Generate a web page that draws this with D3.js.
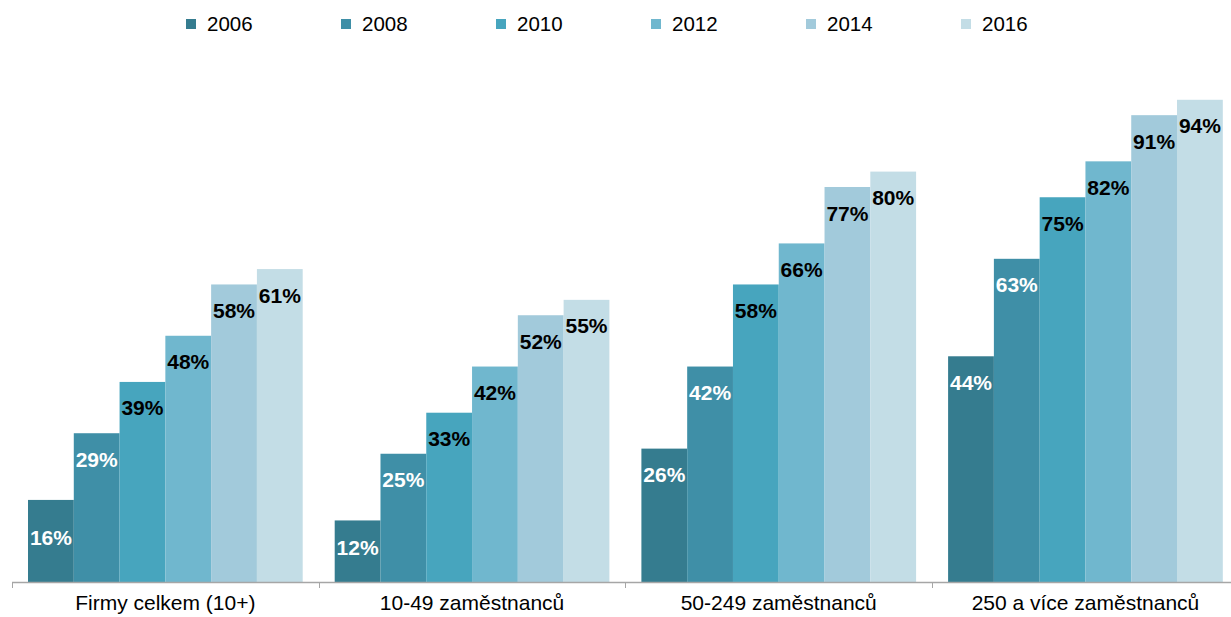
<!DOCTYPE html>
<html>
<head>
<meta charset="utf-8">
<script src="https://cdn.jsdelivr.net/npm/d3@7"></script>
<style>
  body { margin: 0; background: #fff; }
  svg { display: block; font-family: "Liberation Sans", Arial, sans-serif; }
</style>
</head>
<body>
<div id="chart"></div>
<script>
const categories = ["Firmy celkem (10+)", "10-49 zaměstnanců", "50-249 zaměstnanců", "250 a více zaměstnanců"];
const years = ["2006", "2008", "2010", "2012", "2014", "2016"];
const values2006 = [16, 12, 26, 44];
const values2008 = [29, 25, 42, 63];
const values2010 = [39, 33, 58, 75];
const values2012 = [48, 42, 66, 82];
const values2014 = [58, 52, 77, 91];
const values2016 = [61, 55, 80, 94];
const seriesValues = [values2006, values2008, values2010, values2012, values2014, values2016];

const colors = ["#357c8f", "#3f8fa7", "#47a5be", "#70b7ce", "#a2cadb", "#c3dde6"];
const labelColors = ["#fff", "#fff", "#000", "#000", "#000", "#000"];

const width = 1231, height = 617;
const baseY = 582, topY = 69;

const svg = d3.select("#chart").append("svg")
    .attr("width", width)
    .attr("height", height);

const x0 = d3.scaleBand()
    .domain(categories)
    .range([12, 12 + 306.7 * 4])
    .padding(0);

const x1 = d3.scaleBand()
    .domain(years)
    .range([16, x0.bandwidth() - 16])
    .padding(0);

const y = d3.scaleLinear()
    .domain([0, 100])
    .range([baseY, topY]);

const rows = [];
categories.forEach((c, ci) => {
    years.forEach((yr, si) => {
        rows.push({ cat: c, year: yr, si: si, value: seriesValues[si][ci] });
    });
});

const groups = svg.selectAll(".grp")
    .data(categories)
    .enter()
    .append("g")
    .attr("transform", c => `translate(${x0(c)},0)`);

groups.selectAll("rect")
    .data(c => rows.filter(r => r.cat === c))
    .enter()
    .append("rect")
    .attr("x", d => x1(d.year))
    .attr("y", d => y(d.value))
    .attr("width", x1.bandwidth())
    .attr("height", d => baseY - y(d.value))
    .attr("fill", d => colors[d.si]);

// labels sit near the top of the bar; short bars get them nearer the middle
function labelY(v) {
    const top = y(v);
    const h = baseY - top;
    return h < 100 ? (top + baseY) / 2 - 4 : top + 26;
}

groups.selectAll("text.val")
    .data(c => rows.filter(r => r.cat === c))
    .enter()
    .append("text")
    .attr("class", "val")
    .attr("x", d => x1(d.year) + x1.bandwidth() / 2)
    .attr("y", d => labelY(d.value))
    .attr("dy", "0.36em")
    .attr("text-anchor", "middle")
    .style("font-size", "21px")
    .style("font-weight", "bold")
    .style("fill", d => labelColors[d.si])
    .text(d => d.value + "%");

// x axis: line with tick marks at category boundaries
const axis = svg.append("g");
axis.append("line")
    .attr("x1", 12).attr("x2", width)
    .attr("y1", baseY + 0.5).attr("y2", baseY + 0.5)
    .attr("stroke", "#a6a6a6")
    .attr("stroke-width", 1.3);

const tickPos = categories.map(c => x0(c)).concat([x0.range()[1]]);
axis.selectAll(".tick")
    .data(tickPos)
    .enter()
    .append("line")
    .attr("x1", d => Math.round(d) + 0.5)
    .attr("x2", d => Math.round(d) + 0.5)
    .attr("y1", baseY)
    .attr("y2", baseY + 6)
    .attr("stroke", "#a6a6a6");

axis.selectAll(".cat")
    .data(categories)
    .enter()
    .append("text")
    .attr("x", c => x0(c) + x0.bandwidth() / 2)
    .attr("y", 610)
    .attr("text-anchor", "middle")
    .style("font-size", "21px")
    .style("fill", "#000")
    .text(c => c);

// legend
const legend = svg.append("g");
const item = legend.selectAll("g")
    .data(years)
    .enter()
    .append("g")
    .attr("transform", (d, i) => `translate(${186 + i * 155},0)`);

item.append("rect")
    .attr("x", 0)
    .attr("y", 19)
    .attr("width", 10)
    .attr("height", 10)
    .attr("fill", (d, i) => colors[i]);

item.append("text")
    .attr("x", 21)
    .attr("y", 31)
    .style("font-size", "20.5px")
    .style("fill", "#000")
    .text(d => d);
</script>
</body>
</html>
